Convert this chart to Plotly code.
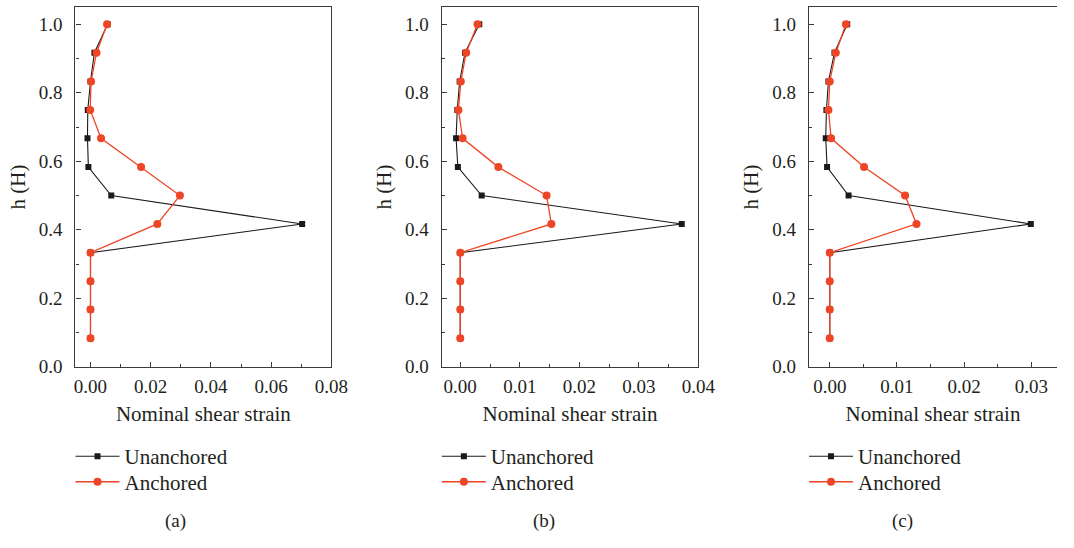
import plotly.graph_objects as go

# Normalised height of the measuring points (fraction of H)
h = [1.0, 0.917, 0.833, 0.75, 0.667, 0.583, 0.5, 0.417, 0.333, 0.25, 0.167, 0.083]

# Nominal shear strain, case (a)
a_unanchored = [0.0057, 0.0013, 0.0000, -0.0009, -0.0010, -0.0007, 0.0069, 0.0703, 0.0, 0.0, 0.0, 0.0]
a_anchored = [0.0055, 0.0020, 0.0002, -0.0001, 0.0035, 0.0168, 0.0297, 0.0222, 0.0, 0.0, 0.0, 0.0]

# Nominal shear strain, case (b)
b_unanchored = [0.0032, 0.0008, -0.0001, -0.0005, -0.0007, -0.0004, 0.0036, 0.0372, 0.0, 0.0, 0.0, 0.0]
b_anchored = [0.0029, 0.0010, 0.0001, -0.0003, 0.0004, 0.0064, 0.0145, 0.0153, 0.0, 0.0, 0.0, 0.0]

# Nominal shear strain, case (c)
c_unanchored = [0.0026, 0.0007, -0.0002, -0.0005, -0.0006, -0.0004, 0.0028, 0.0299, 0.0, 0.0, 0.0, 0.0]
c_anchored = [0.0024, 0.0009, 0.0000, -0.0002, 0.0002, 0.0051, 0.0112, 0.0129, 0.0, 0.0, 0.0, 0.0]

panel_labels = ["(a)", "(b)", "(c)"]
x_title = "Nominal shear strain"
y_title = "h (H)"
series_names = ["Unanchored", "Anchored"]

W, H = 1074, 548
FONT = "Liberation Serif, Times New Roman, serif"
TEXT = "#231f20"
AXIS = "#3a3a3a"
BLACK = "#1a1a1a"
RED = "#ee4527"

panels = [
    dict(un=a_unanchored, an=a_anchored, left=75.7, right=336.0,
         xr=[-0.005, 0.08], dtick=0.02, mirror_y=True, lab_x=177),
    dict(un=b_unanchored, an=b_anchored, left=448.3, right=709.3,
         xr=[-0.0031, 0.04], dtick=0.01, mirror_y=True, lab_x=552),
    dict(un=c_unanchored, an=c_anchored, left=821.7, right=1074.0,
         xr=[-0.0031, 0.0338], dtick=0.01, mirror_y=False, lab_x=917),
]

top_px, bot_px = 7.3, 374.3
y_dom = [1 - bot_px / H, 1 - top_px / H]
legend_rows = [466, 492]

fig = go.Figure()
layout = dict(
    width=W, height=H,
    margin=dict(l=0, r=0, t=0, b=0),
    paper_bgcolor="white", plot_bgcolor="white",
    font=dict(family=FONT, color=TEXT, size=19),
    annotations=[], showlegend=True,
)

leg_idx = 0
for i, p in enumerate(panels):
    n = "" if i == 0 else str(i + 1)
    styles = [
        dict(line=dict(color=BLACK, width=1.1),
             marker=dict(symbol="square", size=6, color=BLACK)),
        dict(line=dict(color=RED, width=1.3),
             marker=dict(symbol="circle", size=8, color=RED)),
    ]
    for k, (vals, st) in enumerate(zip([p["un"], p["an"]], styles)):
        leg_idx += 1
        leg = "legend" if leg_idx == 1 else f"legend{leg_idx}"
        fig.add_trace(go.Scatter(
            x=vals, y=h, mode="lines+markers", name=series_names[k],
            xaxis=f"x{n}", yaxis=f"y{n}", legend=leg, **st,
        ))
        layout[leg] = dict(
            x=(p["left"] - 5) / W, xanchor="left",
            y=1 - legend_rows[k] / H, yanchor="middle",
            bgcolor="rgba(0,0,0,0)", borderwidth=0,
            font=dict(size=21, family=FONT, color=TEXT),
            itemwidth=44,
        )

    layout[f"xaxis{n}"] = dict(
        domain=[p["left"] / W, p["right"] / W], anchor=f"y{n}",
        range=p["xr"], dtick=p["dtick"], tick0=0, tickformat=".2f",
        ticks="inside", ticklen=5, tickwidth=1, tickcolor=AXIS,
        minor=dict(ticks="inside", ticklen=3, dtick=p["dtick"] / 2, tick0=0, tickcolor=AXIS),
        showline=True, linecolor=AXIS, linewidth=1.3, mirror=True,
        showgrid=False, zeroline=False,
        tickfont=dict(size=19, family=FONT, color=TEXT),
        ticklabelstandoff=2,
        title=dict(text=x_title, font=dict(size=21, family=FONT, color=TEXT), standoff=10),
    )
    layout[f"yaxis{n}"] = dict(
        domain=y_dom, anchor=f"x{n}",
        range=[0, 1.05], dtick=0.2, tick0=0, tickformat=".1f",
        ticks="inside", ticklen=5, tickwidth=1, tickcolor=AXIS,
        minor=dict(ticks="inside", ticklen=3, dtick=0.1, tick0=0, tickcolor=AXIS),
        showline=True, linecolor=AXIS, linewidth=1.3, mirror=p["mirror_y"],
        showgrid=False, zeroline=False,
        tickfont=dict(size=19, family=FONT, color=TEXT),
        ticklabelstandoff=8,
        title=dict(text=y_title, font=dict(size=21, family=FONT, color=TEXT), standoff=7),
    )
    layout["annotations"].append(dict(
        text=panel_labels[i], x=p["lab_x"] / W, y=1 - 532 / H,
        xref="paper", yref="paper", xanchor="center", yanchor="middle",
        showarrow=False, font=dict(size=19, family=FONT, color=TEXT),
    ))

fig.update_layout(**layout)
fig.write_html("out.html")
